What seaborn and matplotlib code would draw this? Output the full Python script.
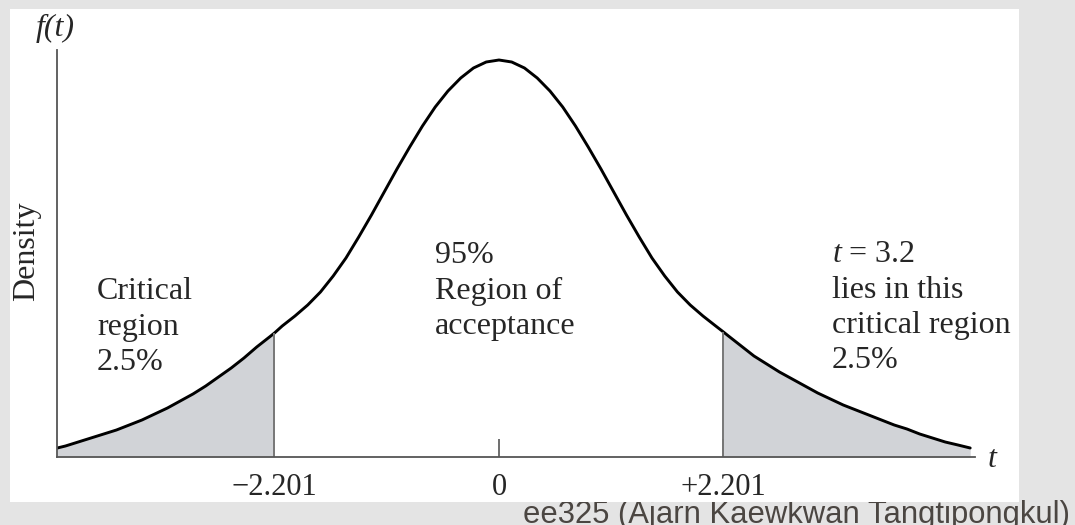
import numpy as np
import pandas as pd
import matplotlib
matplotlib.use("Agg")
import matplotlib.pyplot as plt
from matplotlib.patches import Rectangle
import seaborn as sns

# -----------------------------
# Curve (the left tail sits a little lower)
# -----------------------------

t_vals = [-4.33, -4.25, -4.125, -4.0, -3.875, -3.75, -3.625, -3.5, -3.375, -3.25, -3.125, -3.0,
          -2.875, -2.75, -2.625, -2.5, -2.375, -2.25, -2.201, -2.125, -2.0,
          -1.875, -1.75, -1.625, -1.5, -1.375, -1.25, -1.125, -1.0,
          -0.875, -0.75, -0.625, -0.5, -0.375, -0.25, -0.125,
          0.0,
          0.125, 0.25, 0.375, 0.5, 0.625, 0.75, 0.875,
          1.0, 1.125, 1.25, 1.375, 1.5, 1.625, 1.75, 1.875,
          2.0, 2.125, 2.201, 2.25, 2.375, 2.5, 2.625, 2.75, 2.875,
          3.0, 3.125, 3.25, 3.375, 3.5, 3.625, 3.75, 3.875,
          4.0, 4.125, 4.25, 4.375, 4.5, 4.62]

density = [0.009, 0.011, 0.015, 0.019, 0.023, 0.027, 0.032, 0.037, 0.043, 0.049, 0.056, 0.063,
           0.071, 0.080, 0.089, 0.099, 0.110, 0.120, 0.124, 0.131, 0.141,
           0.152, 0.165, 0.181, 0.199, 0.220, 0.242, 0.265, 0.288,
           0.310, 0.331, 0.350, 0.366, 0.379, 0.389, 0.395,
           0.397,
           0.395, 0.389, 0.379, 0.366, 0.350, 0.331, 0.310,
           0.288, 0.265, 0.242, 0.220, 0.199, 0.181, 0.165, 0.152,
           0.141, 0.131, 0.125, 0.121, 0.111, 0.101, 0.093, 0.085, 0.078,
           0.071, 0.064, 0.058, 0.052, 0.047, 0.042, 0.037, 0.032,
           0.028, 0.023, 0.019, 0.015, 0.012, 0.009]

crit = [-2.201, 2.201]
tick_pos = [-2.201, 0.0, 2.201]
tick_labels = ["\u22122.201", "0", "+2.201"]

df = pd.DataFrame({"t": t_vals, "density": density})

# -----------------------------
# Style
# -----------------------------

sns.set_theme(style="white")
plt.rcParams["font.family"] = ["Liberation Serif", "DejaVu Serif"]
plt.rcParams["mathtext.fontset"] = "custom"
plt.rcParams["mathtext.rm"] = "Liberation Serif"
plt.rcParams["mathtext.it"] = "Liberation Serif:italic"

W, H = 1075, 525
TXT = "#262626"
AXC = "#555555"


def fx(px):
    return px / W


def fy(py):
    return 1 - py / H


fig = plt.figure(figsize=(W / 100, H / 100), dpi=100)
fig.patch.set_facecolor("#e4e4e4")

# white picture panel, caption sits partly behind it
fig.add_artist(Rectangle((fx(10), fy(502)), fx(1009), 493 / H,
                         transform=fig.transFigure, facecolor="white",
                         edgecolor="none", zorder=-1))
fig.text(fx(1070), fy(523), "ee325 (Ajarn Kaewkwan Tangtipongkul)",
         family="Liberation Sans", fontsize=22.3, color="#4b4642",
         ha="right", va="baseline", zorder=-2)

ax = fig.add_axes([fx(57), fy(457), 918 / W, 407 / H])
ax.set_facecolor("none")

sns.lineplot(data=df, x="t", y="density", color="black", linewidth=2.1, ax=ax)

left = df["t"] <= crit[0]
right = df["t"] >= crit[1]
ax.fill_between(df["t"], df["density"], where=left, color="#d1d3d7", linewidth=0)
ax.fill_between(df["t"], df["density"], where=right, color="#d1d3d7", linewidth=0)
crit_h = [df.loc[df["t"] == c, "density"].iloc[0] for c in crit]
ax.vlines(crit, 0, crit_h, color="#777777", linewidth=1.4)

ax.set_xlim(-4.333, 4.667)
ax.set_ylim(0, 0.407)
ax.set_xlabel("")
ax.set_ylabel("")
ax.set_yticks([])
ax.set_xticks(tick_pos)
ax.set_xticklabels(tick_labels)
ax.tick_params(axis="x", bottom=True, direction="in", length=13, width=1.2,
               color=AXC, pad=11.5, labelsize=22, labelcolor=TXT)

sns.despine(ax=ax)
for side in ["left", "bottom"]:
    ax.spines[side].set_color(AXC)
    ax.spines[side].set_linewidth(1.3)

# -----------------------------
# Labels and notes
# -----------------------------

fig.text(fx(55), fy(36), "f(t)", fontsize=23, style="italic", color=TXT,
         ha="center", va="baseline")
fig.text(fx(27), fy(251), "Density", fontsize=23, color=TXT, rotation=90,
         ha="center", va="center")
fig.text(fx(992), fy(467), "t", fontsize=23, style="italic", color=TXT,
         ha="center", va="baseline")

notes = [
    (97, 299, ["Critical", "region", "2.5%"]),
    (435, 263, ["95%", "Region of", "acceptance"]),
    (832, 262, ["$t$ = 3.2", "lies in this", "critical region", "2.5%"]),
]
for x0, y0, lines in notes:
    for i, line in enumerate(lines):
        fig.text(fx(x0), fy(y0 + i * 35.5), line, fontsize=23, color=TXT,
                 ha="left", va="baseline")

fig.savefig("out.png", dpi=100, facecolor=fig.get_facecolor())
